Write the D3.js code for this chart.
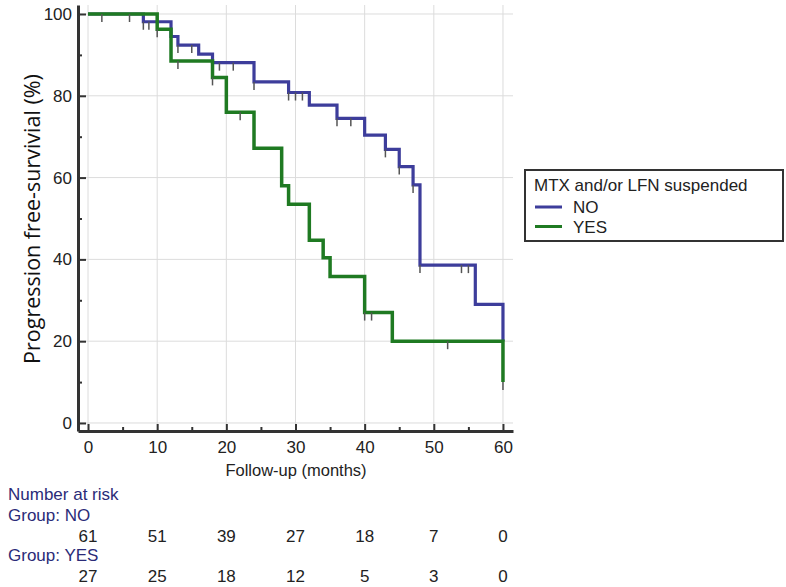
<!DOCTYPE html>
<html>
<head>
    <script src="https://d3js.org/d3.v7.min.js"></script>
    <style>
        body { margin: 0; background: #fff; }
        text { font-family: "Liberation Sans", Arial, sans-serif; }
    </style>
</head>
<body>
    <script>
        // Kaplan-Meier steps
        const noTimes = [0, 8, 12, 13, 16, 18, 24, 29, 32, 36, 40, 43, 45, 47, 48, 56, 60];
        const noSurv = [100, 98.1, 94.5, 92.4, 90.2, 88.1, 83.4, 80.8, 77.7, 74.5, 70.4, 66.9, 62.7, 58.2, 38.6, 29.0, 20.0];
        const noCensor = [2, 6, 8, 8.8, 13, 15, 19, 21, 24, 29, 30, 31, 36, 38, 43, 45, 47, 48, 54, 55];

        const yesTimes = [0, 10, 12, 18, 20, 24, 28, 29, 32, 34, 35, 40, 44, 60];
        const yesSurv = [100, 96.3, 88.5, 84.5, 76.0, 67.2, 58.0, 53.5, 44.7, 40.4, 35.8, 27.0, 20.0, 10.0];
        const yesCensor = [10, 13, 18, 22, 40, 41, 52, 60];

        const riskTimes = [0, 10, 20, 30, 40, 50, 60];
        const riskNo = [61, 51, 39, 27, 18, 7, 0];
        const riskYes = [27, 25, 18, 12, 5, 3, 0];

        const xTicks = [0, 10, 20, 30, 40, 50, 60];
        const yTicks = [0, 20, 40, 60, 80, 100];

        const blue = '#3d3d9b';
        const green = '#1f7a22';

        const svg = d3.select('body')
            .append('svg')
            .attr('width', 786)
            .attr('height', 587);

        const x = d3.scaleLinear().domain([-1.45, 61.45]).range([78, 513]);
        const y = d3.scaleLinear().domain([-1.96, 102.2]).range([431, 5]);

        // grid
        const grid = svg.append('g');
        grid.selectAll('.vg').data(xTicks).enter().append('line')
            .attr('x1', d => x(d)).attr('x2', d => x(d))
            .attr('y1', y.range()[1]).attr('y2', y.range()[0])
            .attr('stroke', '#dcdcdc').attr('stroke-width', 1);
        grid.selectAll('.hg').data(yTicks).enter().append('line')
            .attr('x1', x.range()[0]).attr('x2', x.range()[1])
            .attr('y1', d => y(d)).attr('y2', d => y(d))
            .attr('stroke', '#dcdcdc').attr('stroke-width', 1);

        function stepData(times, surv) {
            return times.map((t, i) => ({ t: t, s: surv[i] }));
        }

        const line = d3.line()
            .x(d => x(d.t))
            .y(d => y(d.s))
            .curve(d3.curveStepAfter);

        function survAt(times, surv, t) {
            let s = surv[0];
            times.forEach((tt, i) => { if (tt <= t) s = surv[i]; });
            return s;
        }

        function drawCurve(times, surv, color, width) {
            svg.append('path')
                .datum(stepData(times, surv))
                .attr('fill', 'none')
                .attr('stroke', color)
                .attr('stroke-width', width)
                .attr('d', line);
        }

        function drawCensor(times, surv, cens) {
            svg.append('g').selectAll('line').data(cens).enter().append('line')
                .attr('x1', d => x(d)).attr('x2', d => x(d))
                .attr('y1', d => y(survAt(times, surv, d)))
                .attr('y2', d => y(survAt(times, surv, d)) + 8)
                .attr('stroke', '#555')
                .attr('stroke-width', 1.5);
        }

        drawCurve(noTimes, noSurv, blue, 3.2);
        drawCurve(yesTimes, yesSurv, green, 3.5);
        drawCensor(noTimes, noSurv, noCensor);
        drawCensor(yesTimes, yesSurv, yesCensor);

        // axes
        svg.append('g')
            .attr('transform', 'translate(0,431)')
            .call(d3.axisBottom(x).tickValues(xTicks).tickSize(-7).tickSizeOuter(0).tickPadding(10));
        svg.append('g')
            .attr('transform', 'translate(0,431)')
            .call(d3.axisBottom(x).tickValues([5, 15, 25, 35, 45, 55]).tickSize(-4).tickSizeOuter(0).tickFormat(''))
            .select('.domain').remove();

        svg.append('g')
            .attr('transform', 'translate(78,0)')
            .call(d3.axisLeft(y).tickValues(yTicks).tickSize(-8).tickSizeOuter(0).tickPadding(6));
        svg.append('g')
            .attr('transform', 'translate(78,0)')
            .call(d3.axisLeft(y).tickValues([10, 30, 50, 70, 90]).tickSize(-4).tickSizeOuter(0).tickFormat(''))
            .select('.domain').remove();

        svg.selectAll('.domain').attr('stroke', '#333').attr('stroke-width', 3);
        svg.selectAll('.tick line').attr('stroke', '#333').attr('stroke-width', 2);
        svg.selectAll('.tick text')
            .attr('font-family', '"Liberation Sans", Arial, sans-serif')
            .attr('font-size', 17)
            .attr('fill', '#222');

        // axis titles
        svg.append('text')
            .attr('x', 296)
            .attr('y', 476)
            .attr('text-anchor', 'middle')
            .attr('font-size', 16.5)
            .attr('fill', '#222')
            .text('Follow-up (months)');

        svg.append('text')
            .attr('transform', 'translate(40,219) rotate(-90)')
            .attr('text-anchor', 'middle')
            .style('font-family', '"Open Sans", sans-serif')
            .attr('font-size', 21.5)
            .attr('fill', '#111')
            .text('Progression free-survivial (%)');

        // legend
        const legend = svg.append('g');
        legend.append('rect')
            .attr('x', 525).attr('y', 170)
            .attr('width', 258).attr('height', 71)
            .attr('fill', '#fff')
            .attr('stroke', '#333')
            .attr('stroke-width', 2);
        legend.append('text')
            .attr('x', 534).attr('y', 191)
            .attr('font-size', 17).attr('fill', '#222')
            .text('MTX and/or LFN suspended');
        const legendItems = [{ name: 'NO', color: blue }, { name: 'YES', color: green }];
        legendItems.forEach((d, i) => {
            const ly = 207 + i * 19.5;
            legend.append('line')
                .attr('x1', 535).attr('x2', 562)
                .attr('y1', ly).attr('y2', ly)
                .attr('stroke', d.color).attr('stroke-width', 3);
            legend.append('text')
                .attr('x', 573).attr('y', ly + 6)
                .attr('font-size', 17).attr('fill', '#222')
                .text(d.name);
        });

        // number at risk table
        const navy = '#2b2b78';
        svg.append('text').attr('x', 8).attr('y', 500)
            .attr('font-size', 17).attr('fill', navy).text('Number at risk');
        svg.append('text').attr('x', 8).attr('y', 521)
            .attr('font-size', 17).attr('fill', navy).text('Group: NO');
        svg.append('text').attr('x', 8).attr('y', 561)
            .attr('font-size', 17).attr('fill', navy).text('Group: YES');

        svg.append('g').selectAll('text').data(riskNo).enter().append('text')
            .attr('x', (d, i) => x(riskTimes[i]))
            .attr('y', 542)
            .attr('text-anchor', 'middle')
            .attr('font-size', 17).attr('fill', '#222')
            .text(d => d);
        svg.append('g').selectAll('text').data(riskYes).enter().append('text')
            .attr('x', (d, i) => x(riskTimes[i]))
            .attr('y', 582)
            .attr('text-anchor', 'middle')
            .attr('font-size', 17).attr('fill', '#222')
            .text(d => d);
    </script>
</body>
</html>
